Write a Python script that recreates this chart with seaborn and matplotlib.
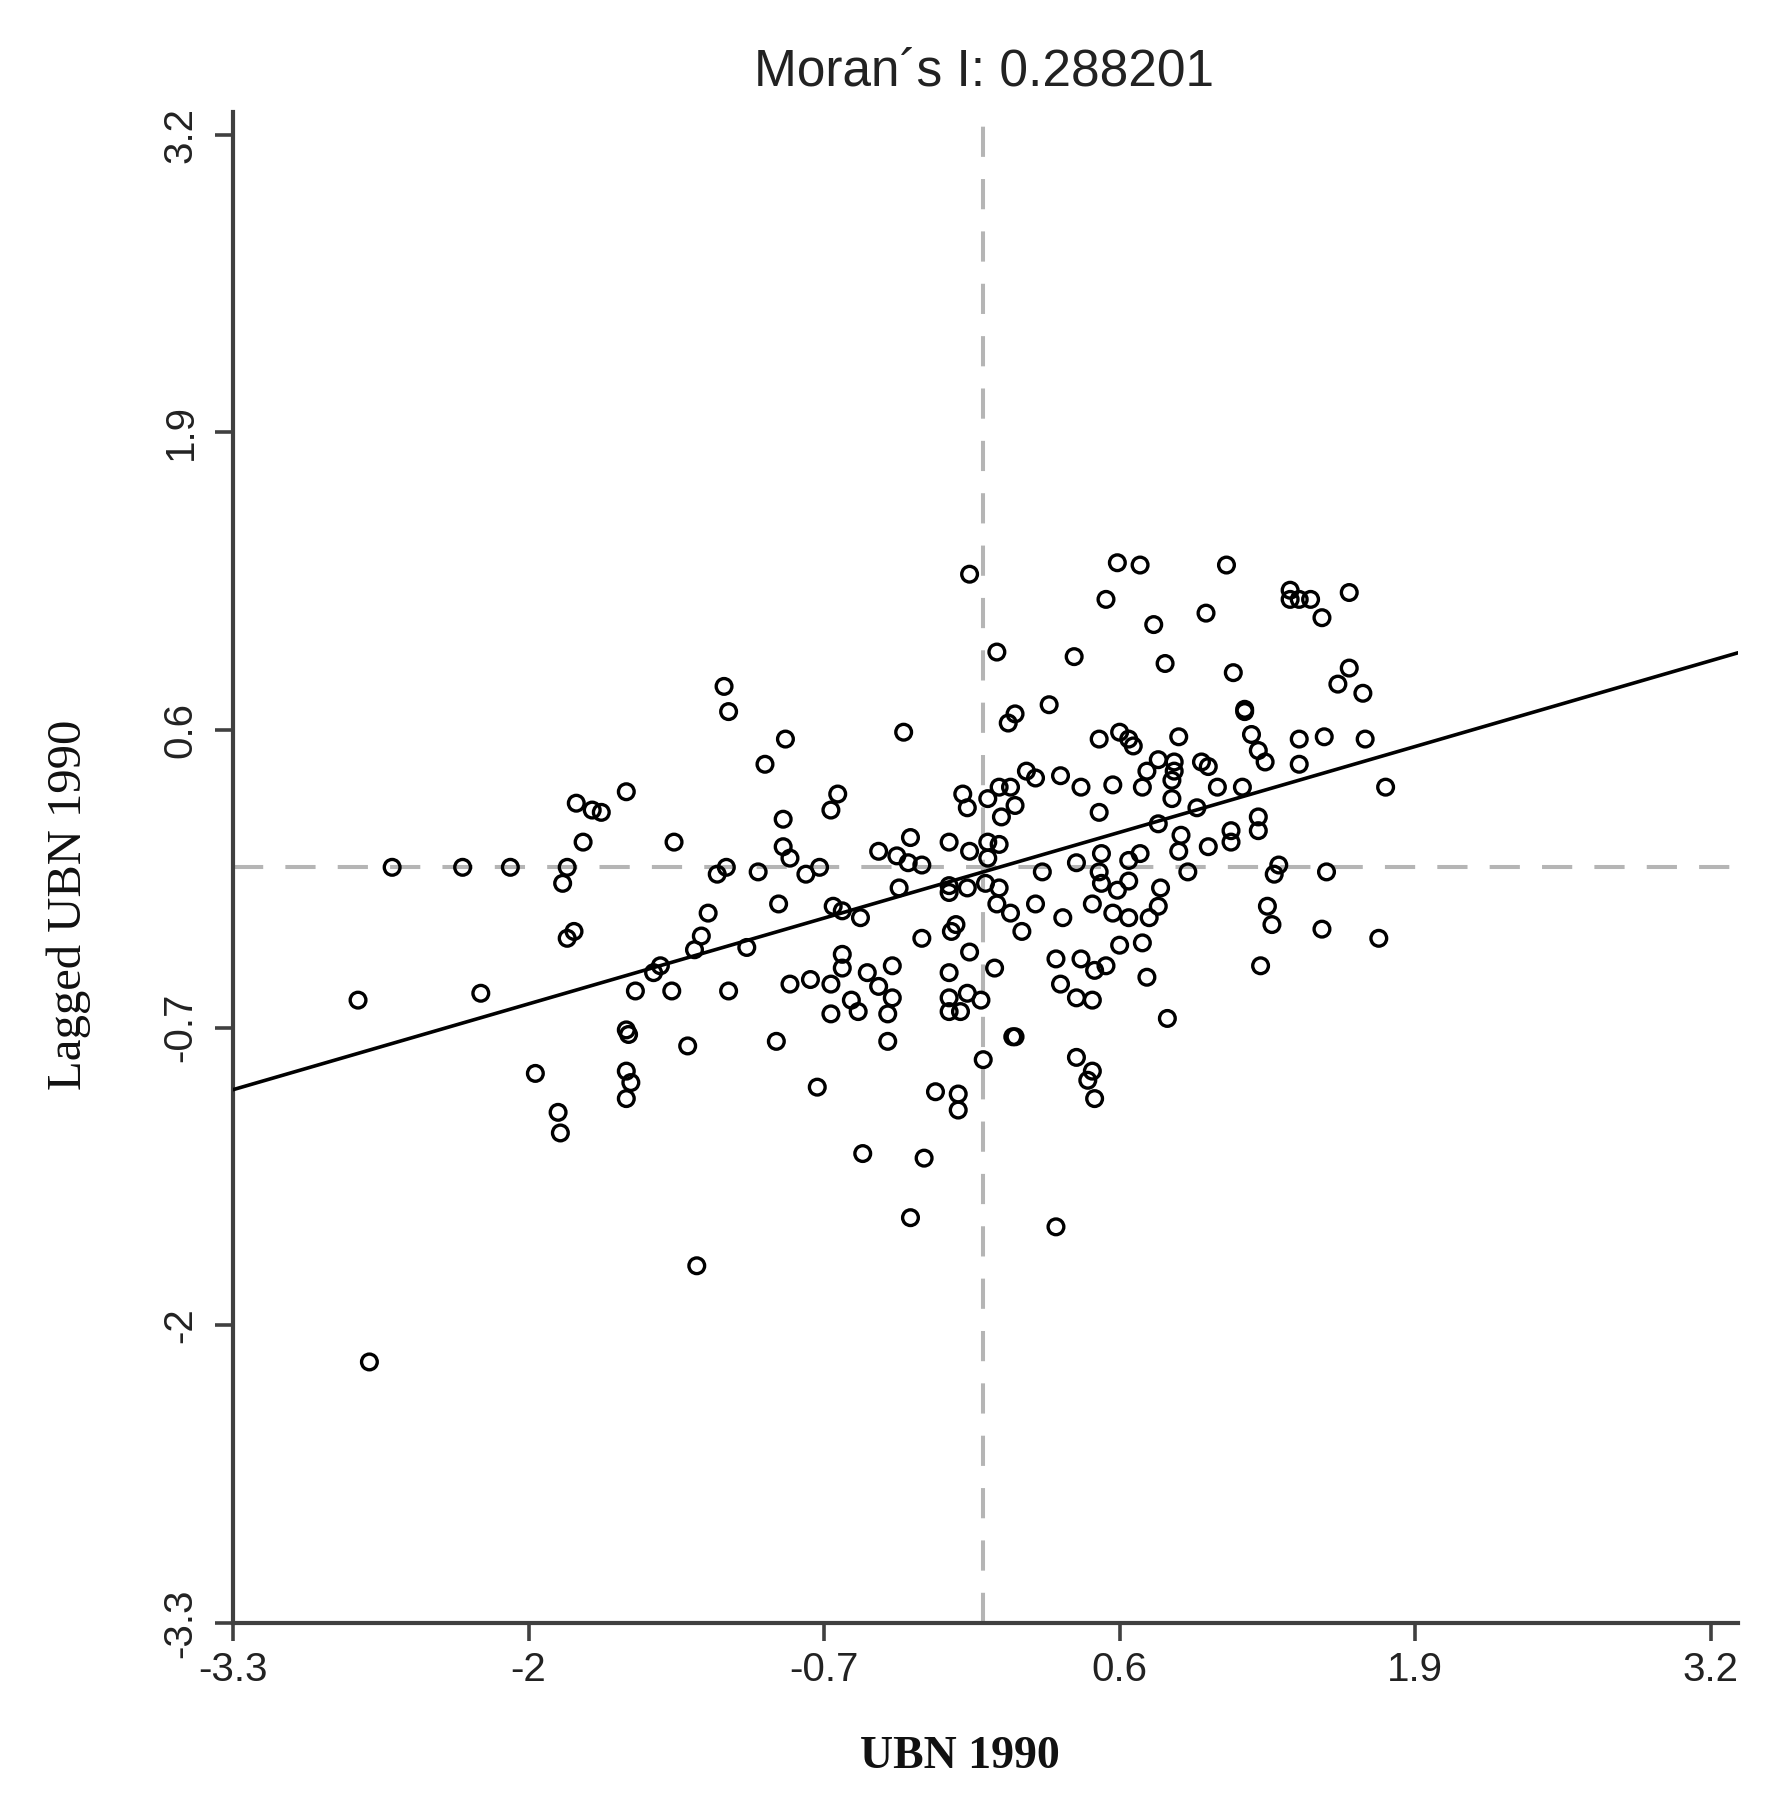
import numpy as np
import pandas as pd
import matplotlib
matplotlib.use("Agg")
import matplotlib.pyplot as plt
import seaborn as sns

# Moran scatter plot: standardized UBN 1990 vs its spatial lag
morans_i = 0.288201
line_intercept = -0.02

ubn_1990 = [
    -1.14, -1.12, -1.57, -1.79, -1.72, -1.68, -1.76, -1.36, -2.60, -2.29, -2.08, -1.83,
    -1.85, -1.17, -1.13, -1.21, -1.80, -1.83, -1.24, -1.27, -1.42, -1.45, -1.53, -1.37,
    -1.12, -2.75, -2.21, -1.57, -1.56, -1.30, -1.97, -1.57, -1.55, -1.57, -1.87, -1.86,
    -2.70, -1.26,
    -0.06, 0.06, 0.29, 0.14, 0.11, -0.35, -0.87, -0.96, -0.64, -0.67, -0.88, -0.88,
    -0.85, -0.99, -0.78, -0.72, -0.46, -0.38, -0.32, -0.33, -0.27, -0.15, -0.06, -0.09,
    -0.07, 0.02, 0.07, 0.12, 0.14, 0.08, 0.19, 0.23, 0.34, 0.02, 0.07, 0.02, 0.26,
    -0.37, -0.15, -0.15, -0.07, 0.01, 0.07, -0.90, -0.66, -0.62, -0.54, 0.06, 0.12,
    0.17, 0.23, 0.35, -1.04, -0.27, -0.12, -0.14, -0.06, -0.62, -0.62, -0.40, -0.51,
    -0.15, 0.05, 0.32, 0.34, -0.85, -0.76, -0.67, -0.46, -0.40, -0.58, -0.55, -0.67,
    -0.42, -0.15, -0.07, -0.01, -0.15, -0.10, -0.91, -0.42, 0.13, 0.14, 0.00, -0.73,
    -0.21, -0.11, -0.11, -0.53, -0.26, -0.32, 0.32,
    0.59, 0.69, 1.07, 0.54, 0.75, 0.98, 0.40, 0.80, 1.10, 1.35, 1.35, 1.39,
    1.44, 1.49, 1.61, 1.61, 1.56, 1.67, 1.15, 1.15, 0.51, 0.60, 0.64, 0.66,
    0.86, 1.18, 1.21, 1.24, 1.39, 1.50, 1.68, 1.39, 1.77, 0.77, 0.72, 0.84,
    0.84, 0.83, 0.96, 0.99, 0.43, 0.57, 0.70, 0.83, 1.03, 1.14, 0.51, 0.77,
    0.94, 0.87, 0.86, 0.99, 1.09, 1.09, 1.21, 1.21, 0.41, 0.52, 0.64, 0.69,
    0.51, 0.90, 1.30, 1.28, 1.51,
    0.52, 0.59, 0.64, 0.78, 0.48, 0.57, 0.64, 0.73, 0.77, 0.60, 0.70, 0.43,
    0.49, 0.54, 0.72, 0.41, 0.48, 0.81, 1.25, 1.27, 1.49, 1.74, 1.22, 0.41,
    0.48, 0.46, 0.49,
]
lagged_ubn_1990 = [
    0.79, 0.68, 0.33, 0.28, 0.25, 0.24, 0.11, 0.11, 0.00, 0.00, 0.00, 0.00,
    -0.07, -0.03, 0.00, -0.20, -0.28, -0.31, -0.30, -0.36, -0.43, -0.46, -0.54, -0.54,
    -0.54, -0.58, -0.55, -0.71, -0.73, -0.78, -0.90, -0.89, -0.94, -1.01, -1.07, -1.16,
    -2.16, -1.74,
    1.28, 0.94, 0.71, 0.67, 0.63, 0.59, 0.56, 0.45, 0.32, 0.25, 0.21, 0.09,
    0.04, -0.02, -0.03, 0.00, 0.07, 0.05, 0.13, 0.02, 0.01, 0.11, 0.07, 0.32,
    0.26, 0.30, 0.35, 0.35, 0.27, 0.22, 0.42, 0.39, 0.40, 0.11, 0.10, 0.04, -0.02,
    -0.09, -0.08, -0.11, -0.09, -0.07, -0.09, -0.16, -0.17, -0.19, -0.22, -0.16, -0.20,
    -0.28, -0.16, -0.22, -0.35, -0.31, -0.25, -0.28, -0.37, -0.38, -0.44, -0.43, -0.46,
    -0.46, -0.44, -0.40, -0.51, -0.51, -0.49, -0.51, -0.52, -0.57, -0.58, -0.63, -0.64,
    -0.64, -0.57, -0.55, -0.58, -0.63, -0.63, -0.76, -0.76, -0.74, -0.74, -0.84, -0.96,
    -0.98, -0.99, -1.06, -1.25, -1.27, -1.53, -1.57,
    1.33, 1.32, 1.32, 1.17, 1.06, 1.11, 0.92, 0.89, 0.85, 1.21, 1.17, 1.17,
    1.17, 1.09, 1.20, 0.87, 0.80, 0.76, 0.69, 0.68, 0.56, 0.59, 0.56, 0.53,
    0.57, 0.58, 0.51, 0.46, 0.56, 0.57, 0.56, 0.45, 0.35, 0.47, 0.42, 0.46,
    0.42, 0.38, 0.46, 0.44, 0.35, 0.36, 0.35, 0.30, 0.35, 0.35, 0.24, 0.19,
    0.26, 0.14, 0.07, 0.09, 0.16, 0.11, 0.22, 0.16, 0.02, 0.06, 0.03, 0.06,
    -0.02, -0.02, 0.01, -0.03, -0.02,
    -0.07, -0.10, -0.06, -0.09, -0.16, -0.20, -0.22, -0.22, -0.17, -0.34, -0.33, -0.40,
    -0.45, -0.43, -0.48, -0.57, -0.58, -0.66, -0.17, -0.25, -0.27, -0.31, -0.43, -0.83,
    -0.89, -0.93, -1.01,
]
tick_values = [-3.3, -2, -0.7, 0.6, 1.9, 3.2]
tick_labels = ["-3.3", "-2", "-0.7", "0.6", "1.9", "3.2"]

df = pd.DataFrame({"UBN 1990": ubn_1990, "Lagged UBN 1990": lagged_ubn_1990})

sns.set_style("ticks")
plt.rcParams["font.family"] = ["Liberation Sans", "DejaVu Sans"]

fig = plt.figure(figsize=(17.8, 18.12), dpi=100)
ax = fig.add_axes([0.1309, 0.1043, 0.8455, 0.8341])

axis_color = "#404040"
dash_color = "#b5b5b5"

ax.axhline(0, color=dash_color, lw=2.9, linestyle=(0, (7.5, 5.5)), zorder=1)
ax.axvline(0, color=dash_color, lw=2.9, linestyle=(0, (7.5, 5.5)), zorder=1)

sns.scatterplot(data=df, x="UBN 1990", y="Lagged UBN 1990", ax=ax,
                marker="o", s=128, facecolors="none", edgecolors="black",
                linewidths=2.4, zorder=3)

ax.axline((0, line_intercept), slope=morans_i, color="black", lw=2.6, zorder=4)

ax.set_xlim(-3.3, 3.32)
ax.set_ylim(-3.3, 3.3)
ax.set_xticks(tick_values)
ax.set_xticklabels(tick_labels)
ax.set_yticks(tick_values)
ax.set_yticklabels(tick_labels, rotation=90, va="center")

for side in ["top", "right"]:
    ax.spines[side].set_visible(False)
for side in ["left", "bottom"]:
    ax.spines[side].set_color(axis_color)
    ax.spines[side].set_linewidth(3.0)

ax.tick_params(axis="both", direction="out", length=13, width=2.6, color=axis_color,
               labelsize=29, labelcolor="#222222")
ax.tick_params(axis="x", pad=7.5)
ax.tick_params(axis="y", pad=11)

ax.set_xlabel("UBN 1990", family="Liberation Serif", fontweight="bold", fontsize=33,
              color="#111111", va="center")
ax.xaxis.set_label_coords(0.483, -0.0887)
ax.set_ylabel("Lagged UBN 1990", family="Liberation Serif", fontsize=35,
              color="#111111", va="center")
ax.yaxis.set_label_coords(-0.109, 0.475)

ax.text(0.499, 1.026, "Moran\u00b4s I: %.6f" % morans_i, transform=ax.transAxes,
        ha="center", va="center", fontsize=37, color="#222222")

fig.savefig("out.png", dpi=100)
plt.close(fig)
